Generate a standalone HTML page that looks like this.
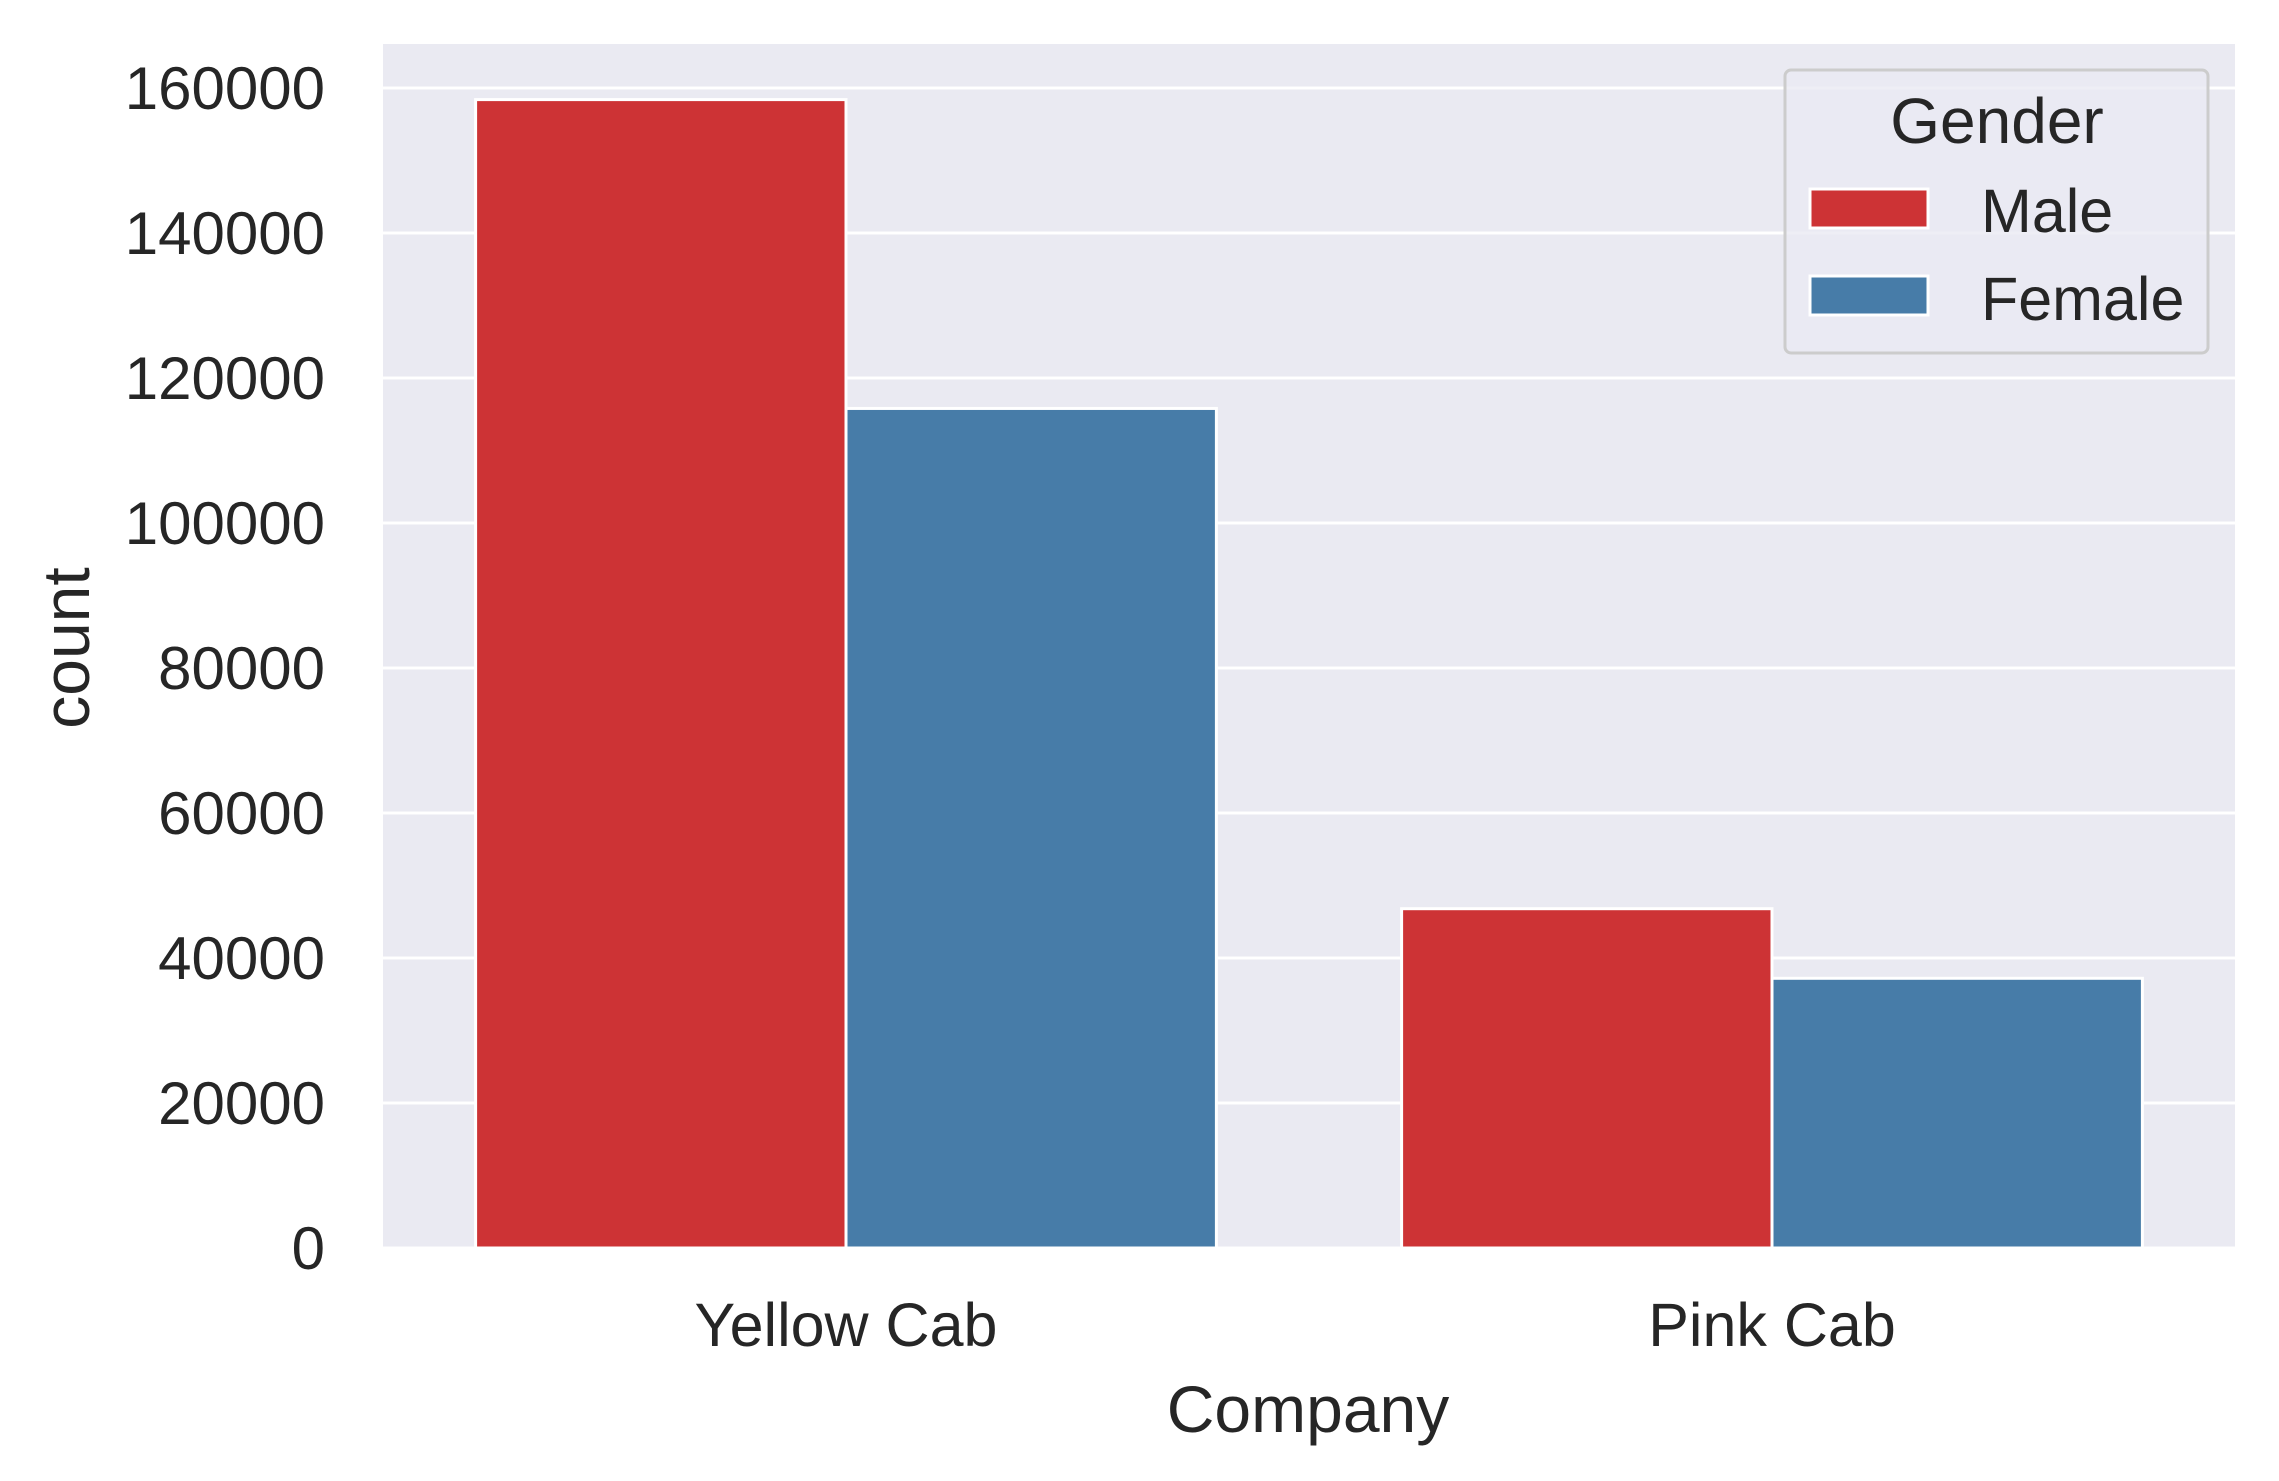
<!DOCTYPE html>
<html><head><meta charset="utf-8"><style>
html,body{margin:0;padding:0;background:#fff;}
svg{display:block;font-family:"Liberation Sans",Arial,sans-serif;}
</style></head><body>
<svg id="chart" width="2279" height="1481" viewBox="0 0 2279 1481" xmlns="http://www.w3.org/2000/svg">
<rect x="383" y="44" width="1852" height="1204" fill="#eaeaf2"/>
<g id="grid"></g>
<g id="bars"></g>
<g id="yticks"></g>
<g id="xticks"></g>
<text x="0" y="0" transform="translate(89,648) rotate(-90)" font-size="66" fill="#262626" text-anchor="middle">count</text>
<text x="1308" y="1432" font-size="66" fill="#262626" text-anchor="middle">Company</text>
<g>
<rect x="1785" y="70" width="423" height="283" rx="6" fill="#eaeaf2" fill-opacity="0.8" stroke="#cccccc" stroke-width="3"/>
<text x="1997" y="143" font-size="64" fill="#262626" text-anchor="middle">Gender</text>
<rect x="1810" y="189" width="118" height="39" fill="#cd3335" stroke="#fff" stroke-width="3"/>
<text x="1981" y="232" font-size="61" fill="#262626">Male</text>
<rect x="1810" y="276" width="118" height="39" fill="#477ca8" stroke="#fff" stroke-width="3"/>
<text x="1981" y="320" font-size="61" fill="#262626">Female</text>
</g>
</svg>
<script>
const categories = ["Yellow Cab", "Pink Cab"];
const maleValues = [158400, 46800];
const femaleValues = [115800, 37200];
const yTicks = [0, 20000, 40000, 60000, 80000, 100000, 120000, 140000, 160000];
const seriesNames = ["Male", "Female"];

const NS = "http://www.w3.org/2000/svg";
const L = 383, R = 2235, T = 44, B = 1248;
function y(v){ return B - v / 160000 * (B - 88); }
function xc(i){ const w = (R - L) / categories.length; return L + w * (i + 0.5); }
const band = (R - L) / categories.length * 0.8;
function mk(tag, attrs, parent){ const e = document.createElementNS(NS, tag); for (const k in attrs) e.setAttribute(k, attrs[k]); parent.appendChild(e); return e; }

const grid = document.getElementById('grid');
const yt = document.getElementById('yticks');
yTicks.forEach(v => {
  const ln = mk('line', {x1: L, x2: R, y1: y(v), y2: y(v), stroke: '#fff', 'stroke-width': 3}, grid);
  
  
  const t = mk('text', {x: 325, y: y(v) + 21, 'font-size': 60, fill: '#262626', 'text-anchor': 'end'}, yt);
  t.textContent = v;
  
  
});
const bars = document.getElementById('bars');
const xt = document.getElementById('xticks');
const colors = ['#cd3335', '#477ca8'];
const series = [maleValues, femaleValues];
categories.forEach((c, i) => {
  series.forEach((vals, s) => {
    const x0 = xc(i) - band / 2 + s * band / 2;
    const r = mk('rect', {x: x0, y: y(vals[i]), width: band / 2, height: B - y(vals[i]), fill: colors[s], stroke: '#fff', 'stroke-width': 3}, bars);
    
    
  });
  const t = mk('text', {x: xc(i), y: 1346, 'font-size': 61, fill: '#262626', 'text-anchor': 'middle'}, xt);
  t.textContent = c;
  
  
});
</script>
</body></html>
